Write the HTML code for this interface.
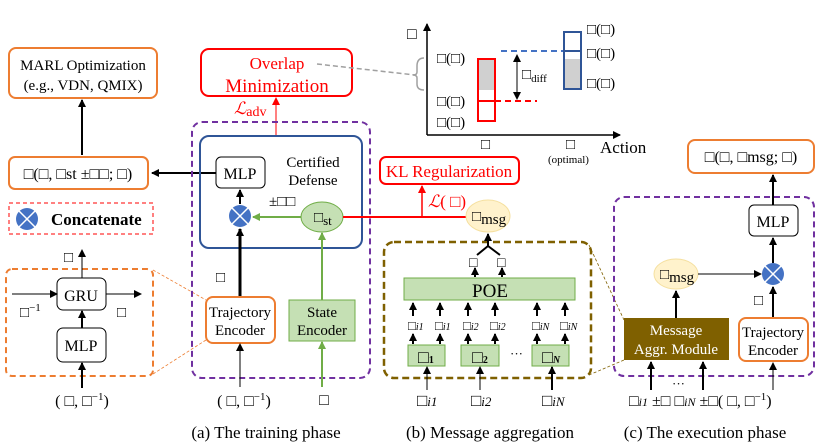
<!DOCTYPE html>
<html><head><meta charset="utf-8"><style>
html,body{margin:0;padding:0;background:#fff;}
svg{display:block;font-family:"Liberation Serif",serif;}
</style></head><body>
<svg width="818" height="444" viewBox="0 0 818 444" xmlns="http://www.w3.org/2000/svg">
<defs>
<marker id="a" markerWidth="8" markerHeight="8" refX="7" refY="4" orient="auto" markerUnits="userSpaceOnUse"><path d="M0,0 L8,4 L0,8 z" fill="#000"/></marker>
<marker id="ag" markerWidth="8" markerHeight="8" refX="7" refY="4" orient="auto" markerUnits="userSpaceOnUse"><path d="M0,0 L8,4 L0,8 z" fill="#70ad47"/></marker>
<marker id="ar" markerWidth="8" markerHeight="8" refX="7" refY="4" orient="auto" markerUnits="userSpaceOnUse"><path d="M0,0 L8,4 L0,8 z" fill="#f00"/></marker>
<g id="cc"><circle r="11" fill="#4472c4"/><path d="M-8,-8 L8,8 M8,-8 L-8,8" stroke="#fff" stroke-width="1.5"/></g>
</defs>

<!-- LEFT column -->
<rect x="9" y="48" width="148" height="50" rx="7" fill="none" stroke="#ed7d31" stroke-width="2"/>
<text x="83" y="70" font-size="15" text-anchor="middle">MARL Optimization</text>
<text x="83" y="90" font-size="15" text-anchor="middle">(e.g., VDN, QMIX)</text>
<line x1="82" y1="155" x2="82" y2="100" stroke="#000" stroke-width="2" marker-end="url(#a)"/>
<rect x="9" y="157" width="139" height="32" rx="6" fill="none" stroke="#ed7d31" stroke-width="2"/>
<text x="78" y="179" font-size="16" text-anchor="middle">□(□, □st ±□□; □)</text>
<line x1="216" y1="173" x2="152" y2="173" stroke="#000" stroke-width="2" marker-end="url(#a)"/>
<rect x="9" y="203" width="144" height="31" fill="none" stroke="#f00" stroke-dasharray="4,3"/>
<use href="#cc" x="27" y="219"/>
<text x="51" y="225" font-size="17" font-weight="bold">Concatenate</text>

<text x="64" y="262" font-size="15">□</text>
<rect x="6" y="269" width="147" height="107" rx="6" fill="none" stroke="#ed7d31" stroke-width="2" stroke-dasharray="6,4"/>
<line x1="82" y1="278" x2="82" y2="250" stroke="#000" marker-end="url(#a)"/>
<rect x="57" y="278" width="49" height="32" rx="6" fill="none" stroke="#000"/>
<text x="81" y="301" font-size="16" text-anchor="middle">GRU</text>
<line x1="12" y1="294" x2="57" y2="294" stroke="#000" marker-end="url(#a)"/>
<line x1="106" y1="294" x2="141" y2="294" stroke="#000" marker-end="url(#a)"/>
<text x="20" y="317" font-size="15">□<tspan dy="-6" font-size="11">−1</tspan></text>
<text x="117" y="317" font-size="15">□</text>
<line x1="82" y1="328" x2="82" y2="311" stroke="#000" stroke-width="2" marker-end="url(#a)"/>
<rect x="57" y="328" width="49" height="34" rx="6" fill="none" stroke="#000"/>
<text x="81" y="351" font-size="16" text-anchor="middle">MLP</text>
<line x1="82" y1="388" x2="82" y2="363" stroke="#000" stroke-width="2" marker-end="url(#a)"/>
<text x="82" y="406" font-size="16" text-anchor="middle">( □, □<tspan dy="-6" font-size="11">−1</tspan><tspan dy="6">)</tspan></text>
<line x1="153" y1="270" x2="206" y2="300" stroke="#ed7d31" stroke-width="0.8" stroke-dasharray="3,2"/>
<line x1="153" y1="374" x2="206" y2="340" stroke="#ed7d31" stroke-width="0.8" stroke-dasharray="3,2"/>

<!-- TRAINING -->
<rect x="201" y="49" width="151" height="47" rx="8" fill="none" stroke="#f00" stroke-width="2"/>
<text x="277" y="69" font-size="17" fill="#f00" text-anchor="middle">Overlap</text>
<text x="277" y="92" font-size="19" fill="#f00" text-anchor="middle">Minimization</text>
<line x1="276" y1="135" x2="276" y2="98" stroke="#f00" marker-end="url(#ar)"/>
<text x="234" y="114" font-size="17" fill="#f00" font-style="italic">ℒ<tspan font-size="14" font-style="normal" dy="2">adv</tspan></text>
<line x1="317" y1="64" x2="415" y2="75" stroke="#a0a0a0" stroke-width="1.5" stroke-dasharray="5,3"/>
<path d="M424,58 Q417,58 417,66 L417,72 Q417,75 413,75 Q417,75 417,78 L417,84 Q417,90 424,90" fill="none" stroke="#a0a0a0" stroke-width="1.5"/>

<rect x="192" y="122" width="178" height="256" rx="10" fill="none" stroke="#7030a0" stroke-width="2" stroke-dasharray="6,4"/>
<rect x="200" y="136" width="162" height="112" rx="9" fill="none" stroke="#2f5597" stroke-width="2"/>
<rect x="216" y="157" width="49" height="31" rx="5" fill="none" stroke="#000"/>
<text x="240" y="179" font-size="16" text-anchor="middle">MLP</text>
<text x="313" y="167" font-size="15" text-anchor="middle">Certified</text>
<text x="313" y="185" font-size="15" text-anchor="middle">Defense</text>
<text x="269" y="206" font-size="15">±□□</text>
<line x1="240" y1="204" x2="240" y2="190" stroke="#000" stroke-width="2" marker-end="url(#a)"/>
<use href="#cc" x="240" y="216"/>
<ellipse cx="322" cy="217" rx="21" ry="15" fill="#c5e0b4" stroke="#70ad47"/>
<text x="314" y="222" font-size="15">□<tspan font-size="13" dy="3">st</tspan></text>
<line x1="301" y1="217" x2="253" y2="217" stroke="#70ad47" stroke-width="2" marker-end="url(#ag)"/>
<line x1="240" y1="297" x2="240" y2="229" stroke="#000" stroke-width="3" marker-end="url(#a)"/>
<text x="216" y="282" font-size="15">□</text>
<rect x="206" y="297" width="69" height="46" rx="7" fill="#fff" stroke="#ed7d31" stroke-width="2"/>
<text x="240" y="317" font-size="15" text-anchor="middle">Trajectory</text>
<text x="240" y="335" font-size="15" text-anchor="middle">Encoder</text>
<line x1="322" y1="300" x2="322" y2="233" stroke="#70ad47" stroke-width="2" marker-end="url(#ag)"/>
<rect x="289" y="300" width="66" height="41" fill="#c5e0b4" stroke="#70ad47"/>
<text x="322" y="317" font-size="15" text-anchor="middle">State</text>
<text x="322" y="335" font-size="15" text-anchor="middle">Encoder</text>
<line x1="240" y1="387" x2="240" y2="344" stroke="#000" marker-end="url(#a)"/>
<line x1="322" y1="387" x2="322" y2="342" stroke="#70ad47" stroke-width="2" marker-end="url(#ag)"/>
<text x="244" y="406" font-size="16" text-anchor="middle">( □, □<tspan dy="-6" font-size="11">−1</tspan><tspan dy="6">)</tspan></text>
<text x="324" y="405" font-size="16" text-anchor="middle">□</text>
<text x="266" y="438" font-size="17" text-anchor="middle">(a) The training phase</text>

<!-- KL -->
<line x1="343" y1="217" x2="467" y2="217" stroke="#f00" stroke-width="2"/>
<line x1="422" y1="217" x2="422" y2="186" stroke="#f00" stroke-width="1.5" marker-end="url(#ar)"/>
<rect x="380" y="157" width="139" height="27" rx="6" fill="none" stroke="#f00" stroke-width="2"/>
<text x="449" y="177" font-size="17" fill="#f00" text-anchor="middle">KL Regularization</text>
<text x="428" y="207" font-size="17" fill="#f00" font-style="italic">ℒ<tspan font-style="normal">( □)</tspan></text>
<ellipse cx="488" cy="216" rx="22" ry="16" fill="#fff2cc" stroke="#f5e0a0"/>
<text x="472" y="221" font-size="15">□<tspan dy="3">msg</tspan></text>

<!-- MESSAGE AGGREGATION -->
<rect x="384" y="242" width="207" height="136" rx="10" fill="none" stroke="#7f6000" stroke-width="2.5" stroke-dasharray="7,4"/>
<line x1="589" y1="245" x2="624" y2="320" stroke="#7f6000" stroke-width="0.8" stroke-dasharray="3,2"/>
<line x1="589" y1="375" x2="624" y2="360" stroke="#7f6000" stroke-width="0.8" stroke-dasharray="3,2"/>
<path d="M477,255 L488,246 L500,255" fill="none" stroke="#000" stroke-width="2"/>
<line x1="488" y1="246" x2="488" y2="234" stroke="#000" stroke-width="2" marker-end="url(#a)"/>
<text x="469" y="267" font-size="14">□</text>
<text x="497" y="267" font-size="14">□</text>
<line x1="475" y1="277" x2="475" y2="268" stroke="#000" stroke-width="2" marker-end="url(#a)"/>
<line x1="502" y1="277" x2="502" y2="268" stroke="#000" stroke-width="2" marker-end="url(#a)"/>
<rect x="404" y="278" width="171" height="22" fill="#c5e0b4" stroke="#70ad47"/>
<text x="490" y="297" font-size="19" text-anchor="middle">POE</text>
<g stroke="#000" stroke-width="2">
<line x1="413" y1="316" x2="413" y2="303" marker-end="url(#a)"/><line x1="440" y1="316" x2="440" y2="303" marker-end="url(#a)"/>
<line x1="468" y1="316" x2="468" y2="303" marker-end="url(#a)"/><line x1="495" y1="316" x2="495" y2="303" marker-end="url(#a)"/>
<line x1="537" y1="316" x2="537" y2="303" marker-end="url(#a)"/><line x1="565" y1="316" x2="565" y2="303" marker-end="url(#a)"/>
<line x1="413" y1="344" x2="413" y2="334" marker-end="url(#a)"/><line x1="440" y1="344" x2="440" y2="334" marker-end="url(#a)"/>
<line x1="468" y1="344" x2="468" y2="334" marker-end="url(#a)"/><line x1="495" y1="344" x2="495" y2="334" marker-end="url(#a)"/>
<line x1="537" y1="344" x2="537" y2="334" marker-end="url(#a)"/><line x1="565" y1="344" x2="565" y2="334" marker-end="url(#a)"/>
</g>
<g font-size="13"><text x="408" y="330">□<tspan font-size="10" font-style="italic">i1</tspan></text><text x="435" y="330">□<tspan font-size="10" font-style="italic">i1</tspan></text>
<text x="463" y="330">□<tspan font-size="10" font-style="italic">i2</tspan></text><text x="490" y="330">□<tspan font-size="10" font-style="italic">i2</tspan></text>
<text x="532" y="330">□<tspan font-size="10" font-style="italic">iN</tspan></text><text x="560" y="330">□<tspan font-size="10" font-style="italic">iN</tspan></text></g>
<rect x="408" y="345" width="37" height="21" fill="#c5e0b4" stroke="#70ad47"/>
<rect x="461" y="345" width="38" height="21" fill="#c5e0b4" stroke="#70ad47"/>
<rect x="532" y="345" width="37" height="21" fill="#c5e0b4" stroke="#70ad47"/>
<text x="418" y="363" font-size="18" font-weight="bold">□<tspan font-size="10">1</tspan></text>
<text x="472" y="363" font-size="18" font-weight="bold">□<tspan font-size="10">2</tspan></text>
<text x="542" y="363" font-size="18" font-weight="bold">□<tspan font-size="10" font-style="italic">N</tspan></text>
<text x="510" y="358" font-size="13">···</text>
<g stroke="#000"><line x1="427" y1="390" x2="427" y2="367" marker-end="url(#a)"/><line x1="480" y1="390" x2="480" y2="367" marker-end="url(#a)"/><line x1="552" y1="390" x2="552" y2="367" stroke-width="2" marker-end="url(#a)"/></g>
<g font-size="17"><text x="417" y="406">□<tspan font-size="13" font-style="italic">i1</tspan></text><text x="471" y="406">□<tspan font-size="13" font-style="italic">i2</tspan></text><text x="542" y="406">□<tspan font-size="13" font-style="italic">iN</tspan></text></g>
<text x="490" y="438" font-size="17" text-anchor="middle">(b) Message aggregation</text>

<!-- CHART -->
<line x1="427" y1="135" x2="427" y2="24" stroke="#000" stroke-width="1.5" marker-end="url(#a)"/>
<line x1="427" y1="135" x2="620" y2="135" stroke="#000" stroke-width="1.5" marker-end="url(#a)"/>
<text x="407" y="39" font-size="16">□</text>
<rect x="478" y="59" width="17" height="31" fill="#d0d0d0"/>
<rect x="478" y="59" width="17" height="62" fill="none" stroke="#f00" stroke-width="2"/>
<line x1="478" y1="101" x2="495" y2="101" stroke="#f00" stroke-width="2"/>
<line x1="495" y1="101" x2="537" y2="101" stroke="#f00" stroke-width="2" stroke-dasharray="6,4"/>
<line x1="501" y1="51" x2="563" y2="51" stroke="#4472c4" stroke-width="2" stroke-dasharray="6,4"/>
<rect x="564" y="59" width="17" height="30" fill="#d0d0d0"/>
<rect x="564" y="32" width="17" height="57" fill="none" stroke="#2f5597" stroke-width="2"/>
<line x1="564" y1="51" x2="581" y2="51" stroke="#2f5597" stroke-width="2"/>
<line x1="517" y1="77" x2="517" y2="55" stroke="#000" marker-end="url(#a)"/>
<line x1="517" y1="77" x2="517" y2="99" stroke="#000" marker-end="url(#a)"/>
<text x="522" y="79" font-size="15">□<tspan font-size="11" dy="3">diff</tspan></text>
<g font-size="15"><text x="437" y="63">□(□)</text><text x="437" y="106">□(□)</text><text x="437" y="127">□(□)</text>
<text x="587" y="34">□(□)</text><text x="587" y="58">□(□)</text><text x="587" y="88">□(□)</text>
<text x="481" y="149">□</text><text x="566" y="149">□</text></g>
<text x="600" y="153" font-size="17">Action</text>
<text x="548" y="163" font-size="11">(optimal)</text>

<!-- EXECUTION -->
<rect x="688" y="140" width="126" height="33" rx="7" fill="none" stroke="#ed7d31" stroke-width="2"/>
<text x="751" y="162" font-size="16" text-anchor="middle">□(□, □msg; □)</text>
<rect x="614" y="197" width="200" height="179" rx="10" fill="none" stroke="#7030a0" stroke-width="2" stroke-dasharray="6,4"/>
<line x1="773" y1="205" x2="773" y2="175" stroke="#000" stroke-width="2" marker-end="url(#a)"/>
<rect x="749" y="205" width="49" height="31" rx="5" fill="#fff" stroke="#000"/>
<text x="773" y="227" font-size="16" text-anchor="middle">MLP</text>
<line x1="773" y1="263" x2="773" y2="238" stroke="#000" stroke-width="2" marker-end="url(#a)"/>
<ellipse cx="676" cy="274" rx="22" ry="15" fill="#fff2cc" stroke="#f5e0a0"/>
<text x="660" y="279" font-size="15">□<tspan dy="3">msg</tspan></text>
<line x1="698" y1="274" x2="761" y2="274" stroke="#000" marker-end="url(#a)"/>
<use href="#cc" x="773" y="274"/>
<line x1="773" y1="318" x2="773" y2="287" stroke="#000" stroke-width="2" marker-end="url(#a)"/>
<text x="754" y="305" font-size="15">□</text>
<line x1="676" y1="318" x2="676" y2="291" stroke="#000" stroke-width="2" marker-end="url(#a)"/>
<rect x="624" y="318" width="105" height="42" fill="#7f6000"/>
<text x="676" y="335" font-size="15" fill="#fff" text-anchor="middle">Message</text>
<text x="676" y="354" font-size="15" fill="#fff" text-anchor="middle">Aggr. Module</text>
<rect x="739" y="318" width="69" height="43" rx="7" fill="#fff" stroke="#ed7d31" stroke-width="2"/>
<text x="773" y="337" font-size="15" text-anchor="middle">Trajectory</text>
<text x="773" y="355" font-size="15" text-anchor="middle">Encoder</text>
<line x1="651" y1="390" x2="651" y2="362" stroke="#000" stroke-width="2" marker-end="url(#a)"/>
<line x1="703" y1="390" x2="703" y2="362" stroke="#000" stroke-width="2" marker-end="url(#a)"/>
<line x1="773" y1="390" x2="773" y2="363" stroke="#000" marker-end="url(#a)"/>
<text x="672" y="388" font-size="13">···</text>
<text x="629" y="406" font-size="16">□<tspan font-size="12" font-style="italic">i1</tspan> ±□ □<tspan font-size="12" font-style="italic">iN</tspan> ±□( □, □<tspan dy="-6" font-size="11">−1</tspan><tspan dy="6">)</tspan></text>
<text x="705" y="438" font-size="17" text-anchor="middle">(c) The execution phase</text>
</svg>
</body></html>
